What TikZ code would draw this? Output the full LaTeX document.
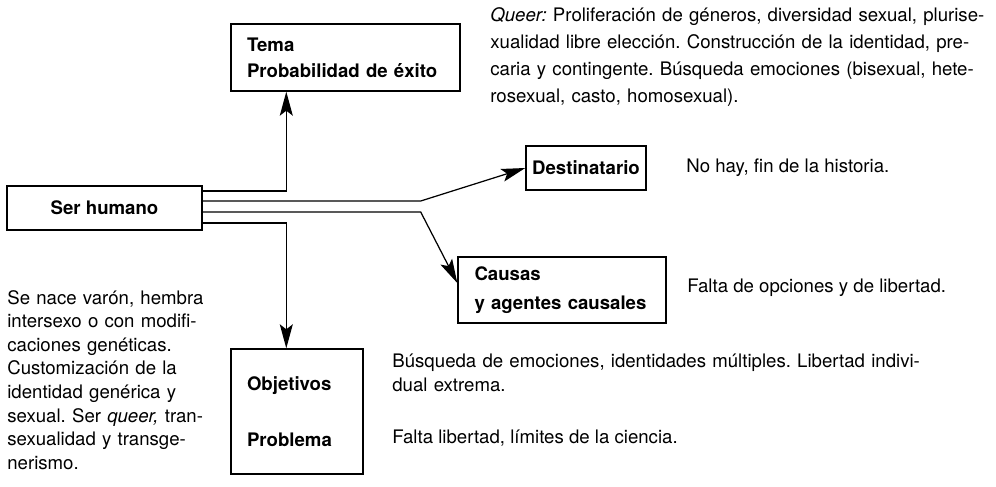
\documentclass[tikz,border=0pt]{standalone}
\usepackage{fontspec}
\setmainfont{TeX Gyre Heros}
\usetikzlibrary{arrows.meta}
\setlength{\parindent}{0pt}
\frenchspacing

% one justified line of a paragraph
\newcommand{\jline}[1]{\hbox to \hsize{#1}}

\tikzset{
  framed/.style = {draw, line width=0.8pt, inner sep=0pt,
    font=\bfseries\fontsize{10.6}{14.7}\selectfont},
  note/.style = {inner sep=0pt, anchor=north west,
    font=\fontsize{10.6}{13.4}\selectfont},
  conn/.style = {line width=0.7pt, -{Stealth[length=4.8mm, width=2.6mm, inset=1mm]}}
}

\begin{document}
\begin{tikzpicture}
        \useasboundingbox (0, 0) rectangle (19.92, 9.72);

        % boxes
        \node[framed, minimum width=3.9cm, minimum height=0.88cm] (ser) at (2.09, 5.56) {Ser humano};
        \node[framed, text width=3.94cm, inner xsep=0.32cm, minimum height=1.34cm, align=left]
            (tema) at (6.91, 8.57) {Tema\\Probabilidad de éxito};
        \node[framed, minimum width=2.4cm, minimum height=0.88cm] (dest) at (11.72, 6.36) {Destinatario};
        \node[framed, text width=3.5cm, inner xsep=0.33cm, minimum height=1.32cm, align=left,
            font=\bfseries\fontsize{10.6}{16.4}\selectfont]
            (caus) at (11.24, 3.92) {Causas\\y agentes causales};
        \node[framed, text width=2.0cm, inner xsep=0.32cm, minimum height=2.5cm, align=left]
            (obj) at (5.94, 1.49) {Objetivos\\[17pt]Problema};

        % connectors
        \draw[conn] ([yshift=0.34cm]ser.east) -| ([xshift=1.12cm]tema.south west);
        \draw[conn] ([yshift=0.14cm]ser.east) -- ++(4.36, 0) -- (dest.west);
        \draw[conn] ([yshift=-0.08cm]ser.east) -- ++(4.36, 0) -- ([yshift=0.14cm]caus.west);
        \draw[conn] ([yshift=-0.30cm]ser.east) -| ([xshift=1.12cm]obj.north west);

        % texts
        \node[note, text width=10cm, font=\fontsize{10.6}{15.5}\selectfont] (queer) at (9.8, 9.58)
            {\jline{\textit{Queer:} Proliferación de géneros, diversidad sexual, plurise-}
             \jline{xualidad libre elección. Construcción de la identidad, pre-}
             \jline{caria y contingente. Búsqueda emociones (bisexual, hete-}
             rosexual, casto, homosexual).};
        \node[note, anchor=west] (nohay) at (13.72, 6.36) {No hay, fin de la historia.};
        \node[note, anchor=west] (opc) at (13.74, 3.96) {Falta de opciones y de libertad.};
        \node[note, text width=3.92cm] (nacer) at (0.14, 3.92)
            {\jline{Se nace varón, hembra}
             \jline{intersexo o con modifi-}
             \jline{caciones genéticas.}
             \jline{Customización de la}
             \jline{identidad genérica y}
             \jline{sexual. Ser \textit{queer,} tran-}
             \jline{sexualidad y transge-}
             nerismo.};
        \node[note, text width=11.12cm] (busq) at (7.84, 2.64)
            {\jline{Búsqueda de emociones, identidades múltiples. Libertad indivi-}
             dual extrema.};
        \node[note] (falta) at (7.84, 1.12) {Falta libertad, límites de la ciencia.};
\end{tikzpicture}
\end{document}
